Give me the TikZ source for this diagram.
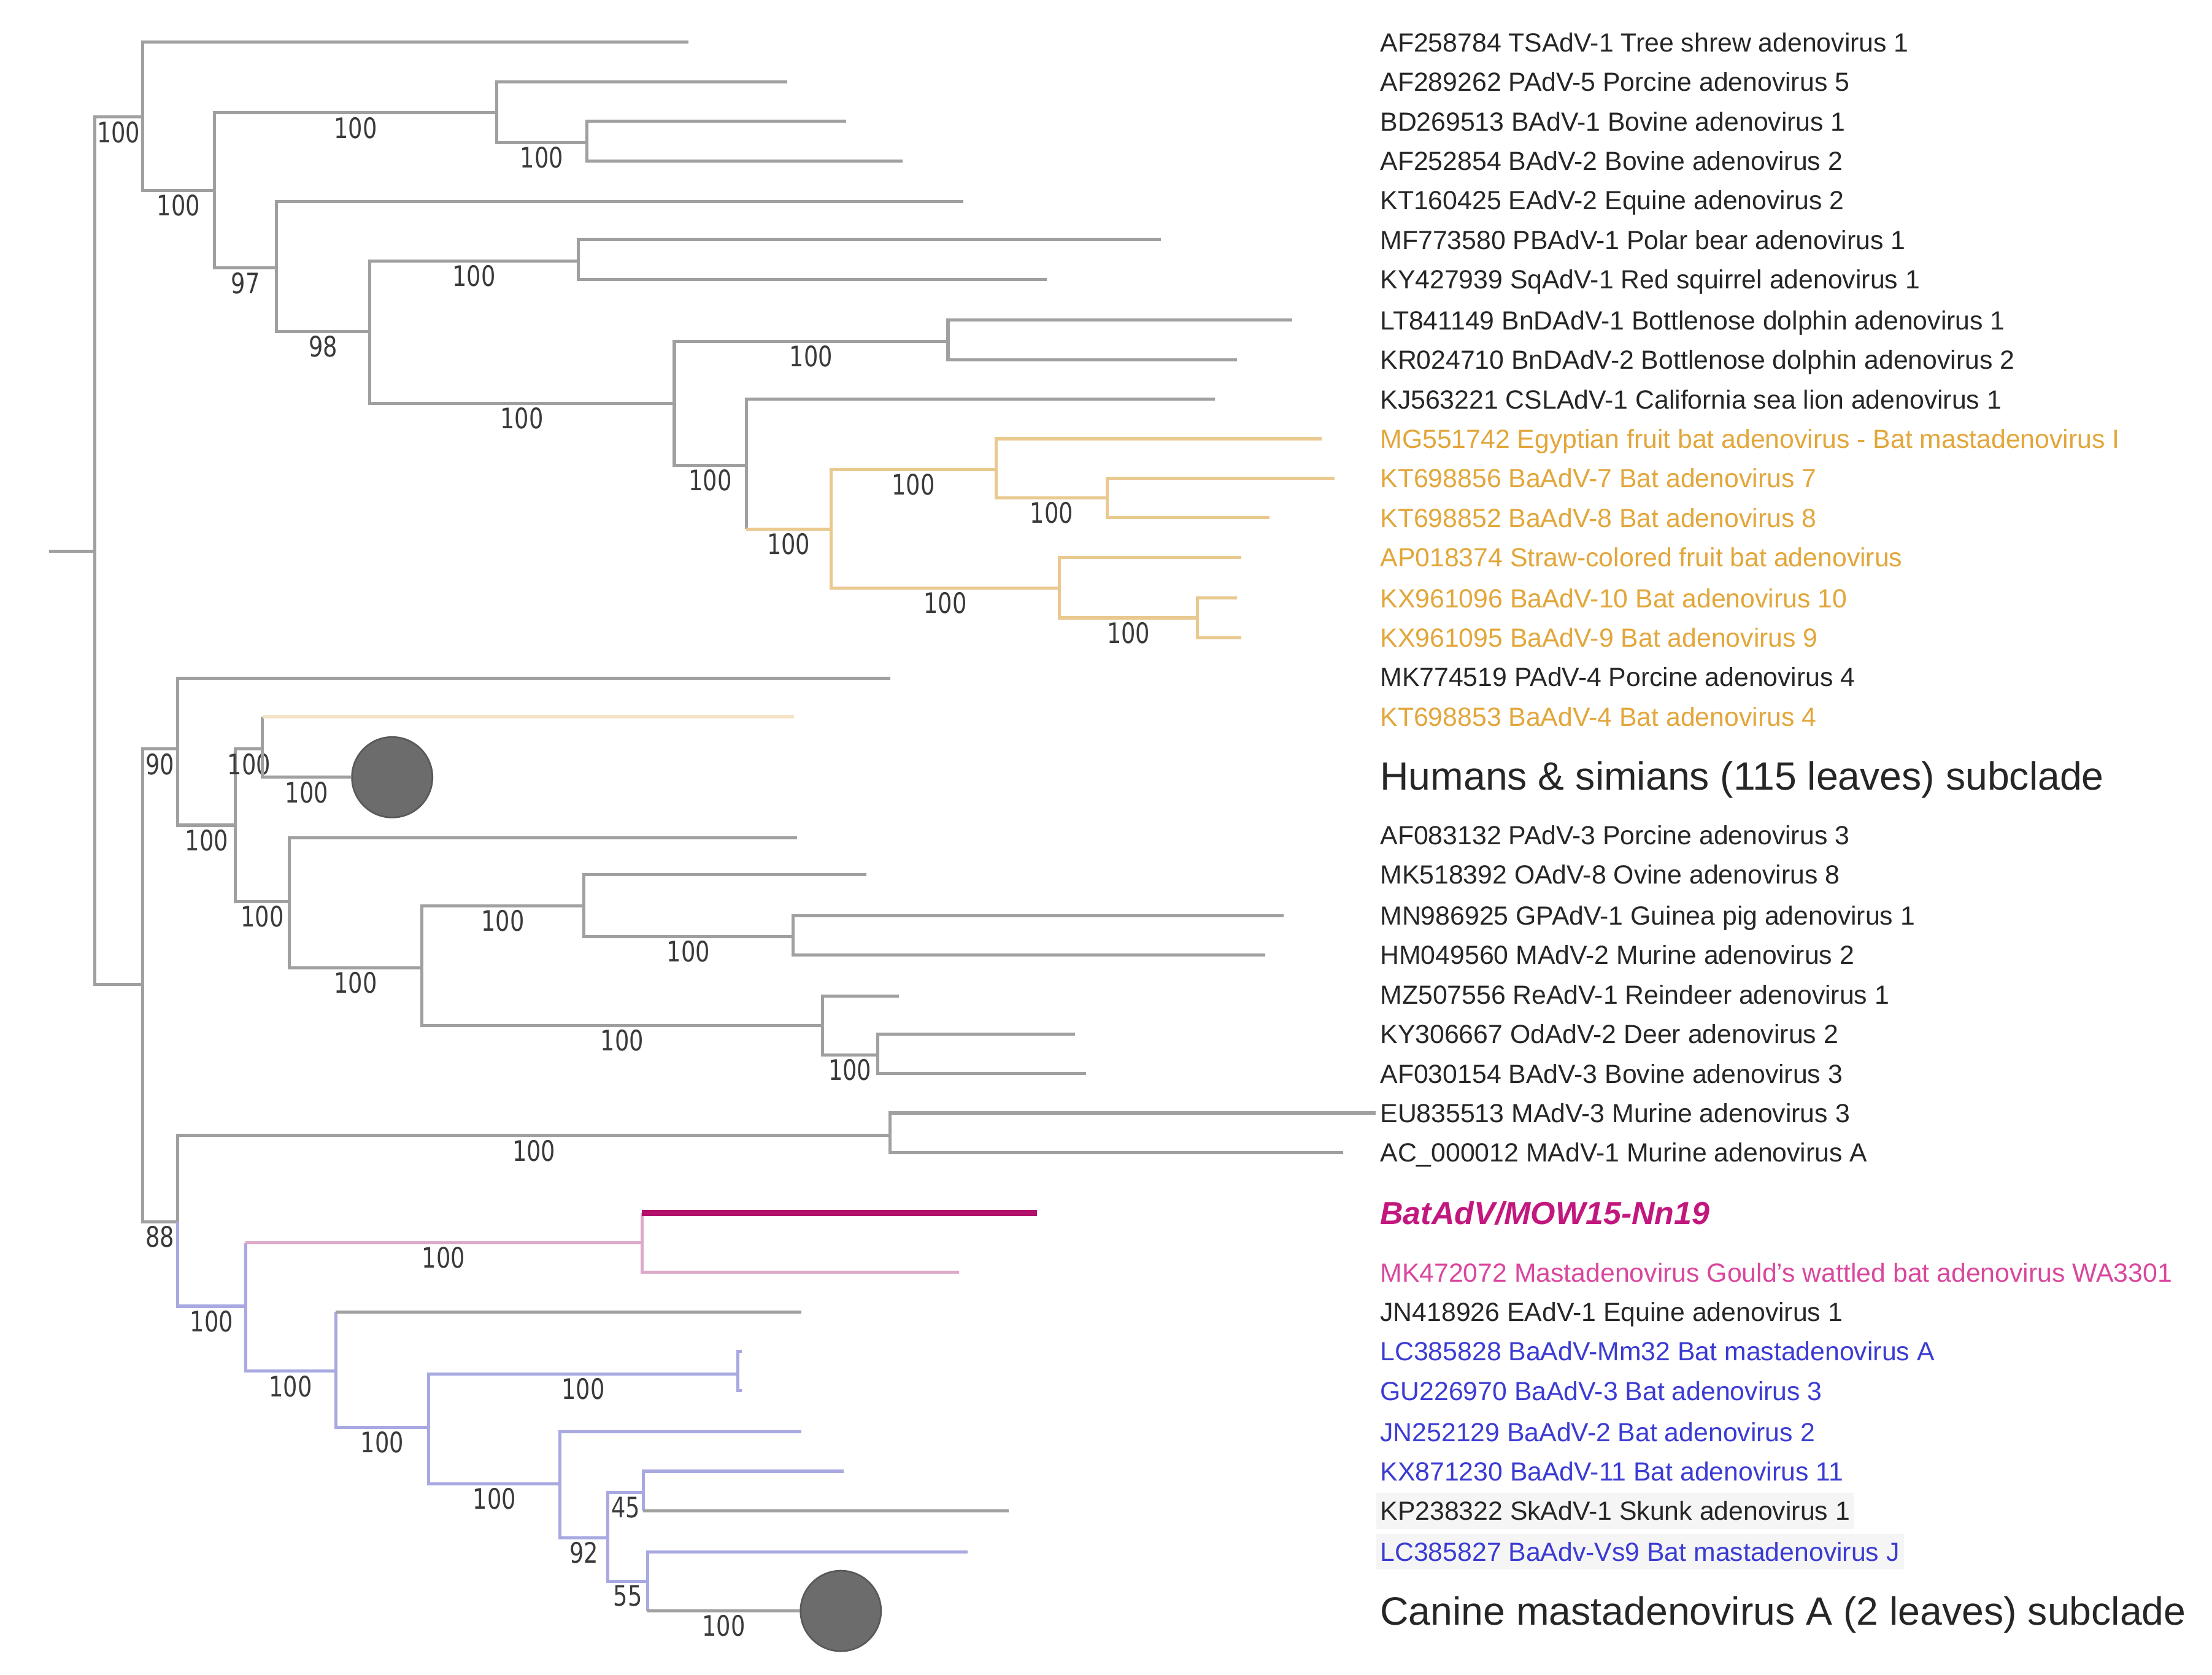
\documentclass[tikz,border=0pt]{standalone}
\usepackage{fontspec}
\setmainfont{Liberation Sans}
\newfontfamily\supfont[FakeStretch=0.8]{DejaVu Sans}
\usepackage{xcolor}
\usepackage{tikz}

\definecolor{brgray}{HTML}{A0A0A0}
\definecolor{brorange}{HTML}{E9C98F}
\definecolor{brpale}{HTML}{F3E3C6}
\definecolor{brpink}{HTML}{DDA9C8}
\definecolor{brblue}{HTML}{A9A9E2}
\definecolor{batline}{HTML}{B3106C}
\definecolor{txtblack}{HTML}{262626}
\definecolor{txtorange}{HTML}{E2A63A}
\definecolor{txtpink}{HTML}{D9479E}
\definecolor{txtbat}{HTML}{C2187E}
\definecolor{txtblue}{HTML}{3B3BD3}
\definecolor{suptxt}{HTML}{3A3A3A}
\definecolor{cladefill}{HTML}{6C6C6C}

\begin{document}
\begin{tikzpicture}[x=0.5pt,y=-0.5pt,
  br/.style={draw=brgray,line width=1.1pt},
  bro/.style={draw=brorange,line width=1.1pt},
  brpl/.style={draw=brpale,line width=1.2pt},
  brp/.style={draw=brpink,line width=1.1pt},
  brb/.style={draw=brblue,line width=1.1pt},
  batbr/.style={draw=batline,line width=2.2pt},
  sup/.style={pos=.75,below,inner sep=1pt,text=suptxt,font=\supfont\fontsize{10}{10}\selectfont},
  leaf/.style={anchor=west,inner sep=0pt,text height=6.7pt,text depth=0pt,text=txtblack,font=\fontsize{9.3}{11}\selectfont},
  leafo/.style={leaf,text=txtorange},
  leafp/.style={leaf,text=txtpink},
  leafb/.style={leaf,text=txtblue},
  hl/.style={fill=black!4,inner xsep=1.5pt,inner ysep=3pt,xshift=-1.5pt},
  sub/.style={anchor=west,inner sep=0pt,text height=10pt,text depth=0pt,text=txtblack,font=\fontsize{14}{16}\selectfont},
  clade/.style={circle,fill=cladefill,draw=black!65,line width=.6pt,minimum size=28.5pt,inner sep=0pt}]
\useasboundingbox (0,0) rectangle (1568,1187);

% leaf labels
\node[leaf]  (AF258784) at (978,30)  {AF258784 TSAdV-1 Tree shrew adenovirus 1};
\node[leaf]  (AF289262) at (978,58)  {AF289262 PAdV-5 Porcine adenovirus 5};
\node[leaf]  (BD269513) at (978,86)  {BD269513 BAdV-1 Bovine adenovirus 1};
\node[leaf]  (AF252854) at (978,114) {AF252854 BAdV-2 Bovine adenovirus 2};
\node[leaf]  (KT160425) at (978,142) {KT160425 EAdV-2 Equine adenovirus 2};
\node[leaf]  (MF773580) at (978,170) {MF773580 PBAdV-1 Polar bear adenovirus 1};
\node[leaf]  (KY427939) at (978,198) {KY427939 SqAdV-1 Red squirrel adenovirus 1};
\node[leaf]  (LT841149) at (978,227) {LT841149 BnDAdV-1 Bottlenose dolphin adenovirus 1};
\node[leaf]  (KR024710) at (978,255) {KR024710 BnDAdV-2 Bottlenose dolphin adenovirus 2};
\node[leaf]  (KJ563221) at (978,283) {KJ563221 CSLAdV-1 California sea lion adenovirus 1};
\node[leafo] (MG551742) at (978,311) {MG551742 Egyptian fruit bat adenovirus - Bat mastadenovirus I};
\node[leafo] (KT698856) at (978,339) {KT698856 BaAdV-7 Bat adenovirus 7};
\node[leafo] (KT698852) at (978,367) {KT698852 BaAdV-8 Bat adenovirus 8};
\node[leafo] (AP018374) at (978,395) {AP018374 Straw-colored fruit bat adenovirus};
\node[leafo] (KX961096) at (978,424) {KX961096 BaAdV-10 Bat adenovirus 10};
\node[leafo] (KX961095) at (978,452) {KX961095 BaAdV-9 Bat adenovirus 9};
\node[leaf]  (MK774519) at (978,480) {MK774519 PAdV-4 Porcine adenovirus 4};
\node[leafo] (KT698853) at (978,508) {KT698853 BaAdV-4 Bat adenovirus 4};
\node[sub]   (humans)   at (978,550) {Humans \& simians (115 leaves) subclade};
\node[leaf]  (AF083132) at (978,592) {AF083132 PAdV-3 Porcine adenovirus 3};
\node[leaf]  (MK518392) at (978,620) {MK518392 OAdV-8 Ovine adenovirus 8};
\node[leaf]  (MN986925) at (978,649) {MN986925 GPAdV-1 Guinea pig adenovirus 1};
\node[leaf]  (HM049560) at (978,677) {HM049560 MAdV-2 Murine adenovirus 2};
\node[leaf]  (MZ507556) at (978,705) {MZ507556 ReAdV-1 Reindeer adenovirus 1};
\node[leaf]  (KY306667) at (978,733) {KY306667 OdAdV-2 Deer adenovirus 2};
\node[leaf]  (AF030154) at (978,761) {AF030154 BAdV-3 Bovine adenovirus 3};
\node[leaf]  (EU835513) at (978,789) {EU835513 MAdV-3 Murine adenovirus 3};
\node[leaf]  (AC000012) at (978,817) {AC\_000012 MAdV-1 Murine adenovirus A};
\node[leaf,text=txtbat,text height=8.1pt,font=\fontsize{11.3}{13}\bfseries\itshape] (MOW15) at (978,860) {BatAdV/MOW15-Nn19};
\node[leafp] (MK472072) at (978,902) {MK472072 Mastadenovirus Gould's wattled bat adenovirus WA3301};
\node[leaf]  (JN418926) at (978,930) {JN418926 EAdV-1 Equine adenovirus 1};
\node[leafb] (LC385828) at (978,958) {LC385828 BaAdV-Mm32 Bat mastadenovirus A};
\node[leafb] (GU226970) at (978,986) {GU226970 BaAdV-3 Bat adenovirus 3};
\node[leafb] (JN252129) at (978,1015) {JN252129 BaAdV-2 Bat adenovirus 2};
\node[leafb] (KX871230) at (978,1043) {KX871230 BaAdV-11 Bat adenovirus 11};
\node[leaf,hl]  (KP238322) at (978,1071) {KP238322 SkAdV-1 Skunk adenovirus 1};
\node[leafb,hl] (LC385827) at (978,1100) {LC385827 BaAdv-Vs9 Bat mastadenovirus J};
\node[sub]   (canine)   at (978,1142) {Canine mastadenovirus A (2 leaves) subclade};

% collapsed subclades
\node[clade] (humc) at (278,551) {};
\node[clade] (canc) at (596,1142) {};

% branch tips
\coordinate (t1) at (488,30);   \coordinate (t2) at (558,58);   \coordinate (t3) at (600,86);
\coordinate (t4) at (640,114);  \coordinate (t5) at (683,143);  \coordinate (t6) at (823,170);
\coordinate (t7) at (742,198);  \coordinate (t8) at (916,227);  \coordinate (t9) at (877,255);
\coordinate (t10) at (861,283); \coordinate (t11) at (937,311); \coordinate (t12) at (946,339);
\coordinate (t13) at (900,367); \coordinate (t14) at (880,395); \coordinate (t15) at (877,424);
\coordinate (t16) at (880,452); \coordinate (t17) at (631,481); \coordinate (t18) at (563,508);
\coordinate (t20) at (565,594); \coordinate (t21) at (614,620); \coordinate (t22) at (910,649);
\coordinate (t23) at (897,677); \coordinate (t24) at (637,706); \coordinate (t25) at (762,733);
\coordinate (t26) at (770,761); \coordinate (t27) at (975,789); \coordinate (t28) at (952,817);
\coordinate (t29) at (735,860); \coordinate (t30) at (680,902); \coordinate (t31) at (568,930);
\coordinate (t32) at (526,958); \coordinate (t33) at (526,986); \coordinate (t34) at (568,1015);
\coordinate (t35) at (598,1043); \coordinate (t36) at (715,1071); \coordinate (t37) at (686,1100);

% inner nodes
\coordinate (r0) at (35,391);  \coordinate (r) at (67,391);
\coordinate (a) at (101,83);   \coordinate (b) at (101,698);
\coordinate (c) at (152,135);  \coordinate (d) at (352,80);   \coordinate (e) at (196,190);
\coordinate (f) at (416,101);  \coordinate (g) at (262,235);  \coordinate (h) at (410,185);
\coordinate (i) at (478,286);  \coordinate (j) at (672,242);  \coordinate (k) at (529,330);
\coordinate (l) at (589,375);  \coordinate (m) at (706,333);  \coordinate (n) at (751,417);
\coordinate (o) at (785,353);  \coordinate (p) at (849,438);
\coordinate (q) at (126,531);  \coordinate (s) at (126,866);  \coordinate (u) at (167,585);
\coordinate (v) at (186,531);  \coordinate (w) at (205,639);  \coordinate (x) at (299,686);
\coordinate (y) at (414,642);  \coordinate (z) at (583,727);  \coordinate (aa) at (562,664);
\coordinate (bb) at (622,748); \coordinate (cc) at (631,805); \coordinate (dd) at (174,926);
\coordinate (ee) at (455,881); \coordinate (ff) at (238,972); \coordinate (gg) at (304,1012);
\coordinate (hh) at (523,974); \coordinate (ii) at (397,1052); \coordinate (jj) at (431,1090);
\coordinate (kk) at (456,1058); \coordinate (ll) at (459,1121);

% upper clade
\draw[br] (r0) -- (r);
\draw[br] (r) |- (a) node[sup]{100};
\draw[br] (r) |- (b);
\draw[br] (a) |- (t1);
\draw[br] (a) |- (c) node[sup]{100};
\draw[br] (c) |- (d) node[sup]{100};
\draw[br] (c) |- (e) node[sup]{97};
\draw[br] (d) |- (t2);
\draw[br] (d) |- (f) node[sup]{100};
\draw[br] (f) |- (t3);
\draw[br] (f) |- (t4);
\draw[br] (e) |- (t5);
\draw[br] (e) |- (g) node[sup]{98};
\draw[br] (g) |- (h) node[sup]{100};
\draw[br] (g) |- (i) node[sup]{100};
\draw[br] (h) |- (t6);
\draw[br] (h) |- (t7);
\draw[br] (i) |- (j) node[sup]{100};
\draw[br] (i) |- (k) node[sup]{100};
\draw[br] (j) |- (t8);
\draw[br] (j) |- (t9);
\draw[br] (k) |- (t10);
\draw[br] (k) -- (k|-l);
\draw[bro] (k|-l) -- (l) node[sup,pos=.5]{100};
\draw[bro] (l) |- (m) node[sup]{100};
\draw[bro] (l) |- (n) node[sup]{100};
\draw[bro] (m) |- (t11);
\draw[bro] (m) |- (o) node[sup]{100};
\draw[bro] (o) |- (t12);
\draw[bro] (o) |- (t13);
\draw[bro] (n) |- (t14);
\draw[bro] (n) |- (p) node[sup]{100};
\draw[bro] (p) |- (t15);
\draw[bro] (p) |- (t16);

% middle clade
\draw[br] (b) |- (q) node[sup]{90};
\draw[br] (b) |- (s) node[sup]{88};
\draw[br] (q) |- (t17);
\draw[br] (q) |- (u) node[sup]{100};
\draw[br] (u) |- (v) node[sup]{100};
\draw[br] (u) |- (w) node[sup]{100};
\draw[br] (v) -- (v|-t18);
\draw[brpl] (v|-t18) -- (t18);
\draw[br] (v) |- (humc.west) node[sup]{100};
\draw[br] (w) |- (t20);
\draw[br] (w) |- (x) node[sup]{100};
\draw[br] (x) |- (y) node[sup]{100};
\draw[br] (x) |- (z) node[sup]{100};
\draw[br] (y) |- (t21);
\draw[br] (y) |- (aa) node[sup]{100};
\draw[br] (aa) |- (t22);
\draw[br] (aa) |- (t23);
\draw[br] (z) |- (t24);
\draw[br] (z) |- (bb) node[sup]{100};
\draw[br] (bb) |- (t25);
\draw[br] (bb) |- (t26);

% lower clade
\draw[br] (s) |- (cc) node[sup]{100};
\draw[br] (cc) |- (t27);
\draw[br] (cc) |- (t28);
\draw[brb] (s) |- (dd) node[sup]{100};
\draw[brb] (dd) -- (dd|-ee);
\draw[brp] (dd|-ee) -- (ee) node[sup,pos=.5]{100};
\draw[brb] (dd) |- (ff) node[sup]{100};
\draw[brp] (ee) |- (t30);
\draw[brp] (ee) -- (ee|-t29);
\draw[batbr] (ee|-t29) -- (t29);
\draw[brb] (ff) -- (ff|-t31);
\draw[br] (ff|-t31) -- (t31);
\draw[brb] (ff) |- (gg) node[sup]{100};
\draw[brb] (gg) |- (hh) node[sup]{100};
\draw[brb] (gg) |- (ii) node[sup]{100};
\draw[brb] (hh) |- (t32);
\draw[brb] (hh) |- (t33);
\draw[brb] (ii) |- (t34);
\draw[brb] (ii) |- (jj) node[sup]{92};
\draw[brb] (jj) |- (kk) node[sup]{45};
\draw[brb] (jj) |- (ll) node[sup]{55};
\draw[brb] (kk) |- (t35);
\draw[brb] (kk) -- (kk|-t36);
\draw[br] (kk|-t36) -- (t36);
\draw[brb] (ll) |- (t37);
\draw[brb] (ll) -- (ll|-canc);
\draw[br] (ll|-canc) -- (canc.west) node[sup,pos=.5]{100};
\end{tikzpicture}
\end{document}
